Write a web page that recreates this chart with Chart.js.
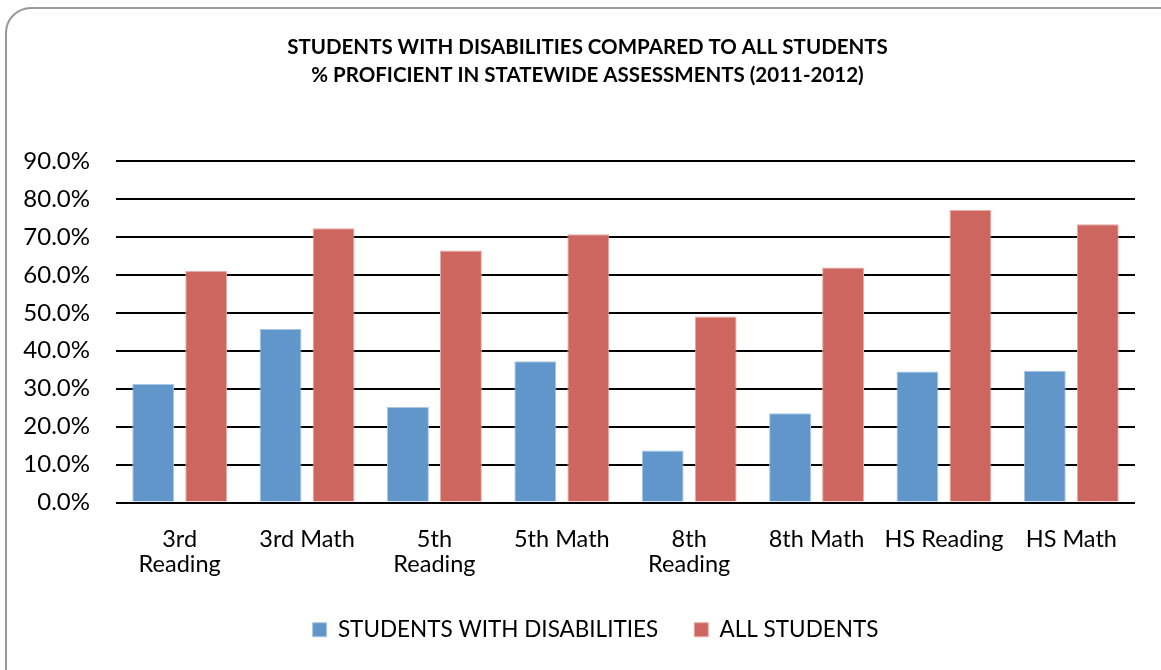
<!DOCTYPE html>
<html>
<head>
<meta charset="utf-8">
<script src="https://cdn.jsdelivr.net/npm/chart.js@4"></script>
<style>
  html, body { margin: 0; padding: 0; background: #fff; overflow: hidden; }
  #wrap { position: relative; width: 1161px; height: 670px; }
  #frame {
    position: absolute; left: 5px; top: 7px; width: 1180px; height: 700px;
    border: 2px solid #999; border-radius: 26px; box-sizing: border-box;
  }
  canvas { position: absolute; left: 0; top: 0; }
</style>
</head>
<body>
<div id="wrap">
  <div id="frame"></div>
  <canvas id="chart" width="1161" height="670"></canvas>
</div>
<script>
// Assessment categories (multi-line labels)
const categories = [
  ['3rd', 'Reading'], '3rd Math', ['5th', 'Reading'], '5th Math',
  ['8th', 'Reading'], '8th Math', 'HS Reading', 'HS Math'
];

// % proficient, 2011-2012
const studentsWithDisabilities = [31.2, 45.7, 25.2, 37.2, 13.7, 23.5, 34.5, 34.7];
const allStudents = [61.0, 72.3, 66.4, 70.7, 49.0, 61.9, 77.1, 73.3];

const seriesNames = ['STUDENTS WITH DISABILITIES', 'ALL STUDENTS'];
const titleLines = [
  'STUDENTS WITH DISABILITIES COMPARED TO ALL STUDENTS',
  '% PROFICIENT IN STATEWIDE ASSESSMENTS (2011-2012)'
];

const FONT = 'Lato, "Open Sans", sans-serif';

// Nudge the title and legend blocks so they sit centred on the page
// rather than on the padded layout box.
const centreBlocks = {
  id: 'centreBlocks',
  afterLayout(chart) {
    const t = chart.titleBlock;
    if (t) { t.left += 10; t.right += 10; }
    const l = chart.legend;
    if (l) { l.left += 18; l.right += 18; }
  }
};

new Chart(document.getElementById('chart'), {
  type: 'bar',
  data: {
    labels: categories,
    datasets: [
      {
        label: seriesNames[0],
        data: studentsWithDisabilities,
        backgroundColor: '#6096c9',
        borderColor: '#a9c6e4',
        borderWidth: 1
      },
      {
        label: seriesNames[1],
        data: allStudents,
        backgroundColor: '#cc665f',
        borderColor: '#e8aba6',
        borderWidth: 1
      }
    ]
  },
  plugins: [centreBlocks],
  options: {
    responsive: false,
    animation: false,
    layout: { padding: { left: 20, right: 26, top: 0, bottom: 19 } },
    datasets: {
      bar: { categoryPercentage: 0.832, barPercentage: 0.79 }
    },
    plugins: {
      tooltip: { enabled: false },
      title: {
        display: true,
        text: titleLines,
        color: '#000',
        font: { family: FONT, weight: 'bold', size: 20.5, lineHeight: '28px' },
        padding: { top: 33, bottom: 72 }
      },
      legend: {
        position: 'bottom',
        labels: {
          boxWidth: 14,
          boxHeight: 14,
          padding: 36,
          color: '#000',
          font: { family: FONT, size: 22.5 }
        }
      }
    },
    scales: {
      x: {
        grid: { display: false, drawTicks: false },
        border: { display: false },
        ticks: {
          color: '#000',
          padding: 24,
          maxRotation: 0,
          autoSkip: false,
          font: { family: FONT, size: 23.5, lineHeight: '25px' }
        },
        afterFit: s => { s.height = 80; }
      },
      y: {
        min: 0,
        max: 90,
        grid: { color: '#000', lineWidth: 2, drawTicks: false },
        border: { display: false },
        ticks: {
          stepSize: 10,
          color: '#000',
          padding: 26,
          font: { family: FONT, size: 24 },
          callback: v => v.toFixed(1) + '%'
        },
        afterFit: s => { s.width = 96; }
      }
    }
  }
});
</script>
</body>
</html>
